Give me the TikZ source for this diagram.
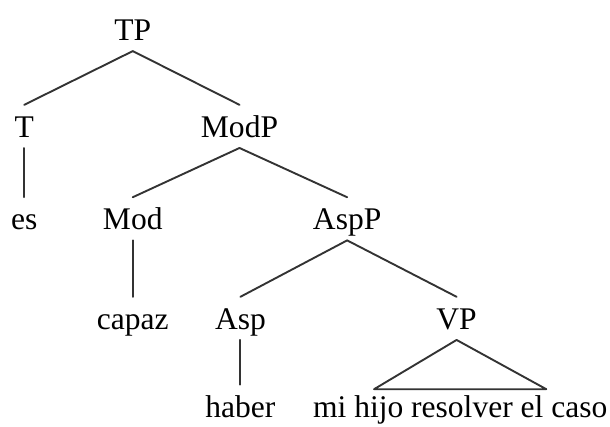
\documentclass[tikz,border=0pt]{standalone}
\usepackage{fontspec}
\setmainfont{Liberation Serif}

\tikzset{
  cat/.style={anchor=base, inner xsep=1pt, inner ysep=3.2pt,
              text height=1.5ex, text depth=0pt},
  branch/.style={draw=black!80, line width=0.6pt, line cap=round}
}

\begin{document}
\begin{tikzpicture}
 % fix the page to the reference margins
 \useasboundingbox (0cm,0cm) rectangle (6.80cm,-4.75cm);

 % first level
 \node[cat] (tp)    at (1.48cm,-0.45cm) {TP};
 % second level
 \node[cat] (t)     at (0.27cm,-1.53cm) {T};
 \node[cat] (modp)  at (2.67cm,-1.53cm) {ModP};
 % third level
 \node[cat] (es)    at (0.27cm,-2.56cm) {es};
 \node[cat] (mod)   at (1.48cm,-2.56cm) {Mod};
 \node[cat] (aspp)  at (3.87cm,-2.56cm) {AspP};
 % fourth level
 \node[cat] (capaz) at (1.48cm,-3.67cm) {capaz};
 \node[cat] (asp)   at (2.68cm,-3.67cm) {Asp};
 \node[cat] (vp)    at (5.09cm,-3.67cm) {VP};
 % the words
 \node[cat] (haber) at (2.68cm,-4.65cm) {haber};
 \node[cat] (words) at (5.13cm,-4.65cm) {mi hijo resolver el caso};

 % branches from mother to daughter
 \foreach \a/\b in {tp/t, tp/modp, t/es, modp/mod, modp/aspp,
                    mod/capaz, aspp/asp, aspp/vp, asp/haber}
         \draw[branch] (\a.south) -- (\b.north);

 % the triangle over the phrase
 \coordinate (vl) at ([xshift=-0.96cm,yshift=-0.05cm]words.north);
 \coordinate (vr) at ([xshift=0.96cm,yshift=-0.05cm]words.north);
 \draw[branch, line join=round] (vl) -- (vp.south) -- (vr) -- cycle;
\end{tikzpicture}
\end{document}
